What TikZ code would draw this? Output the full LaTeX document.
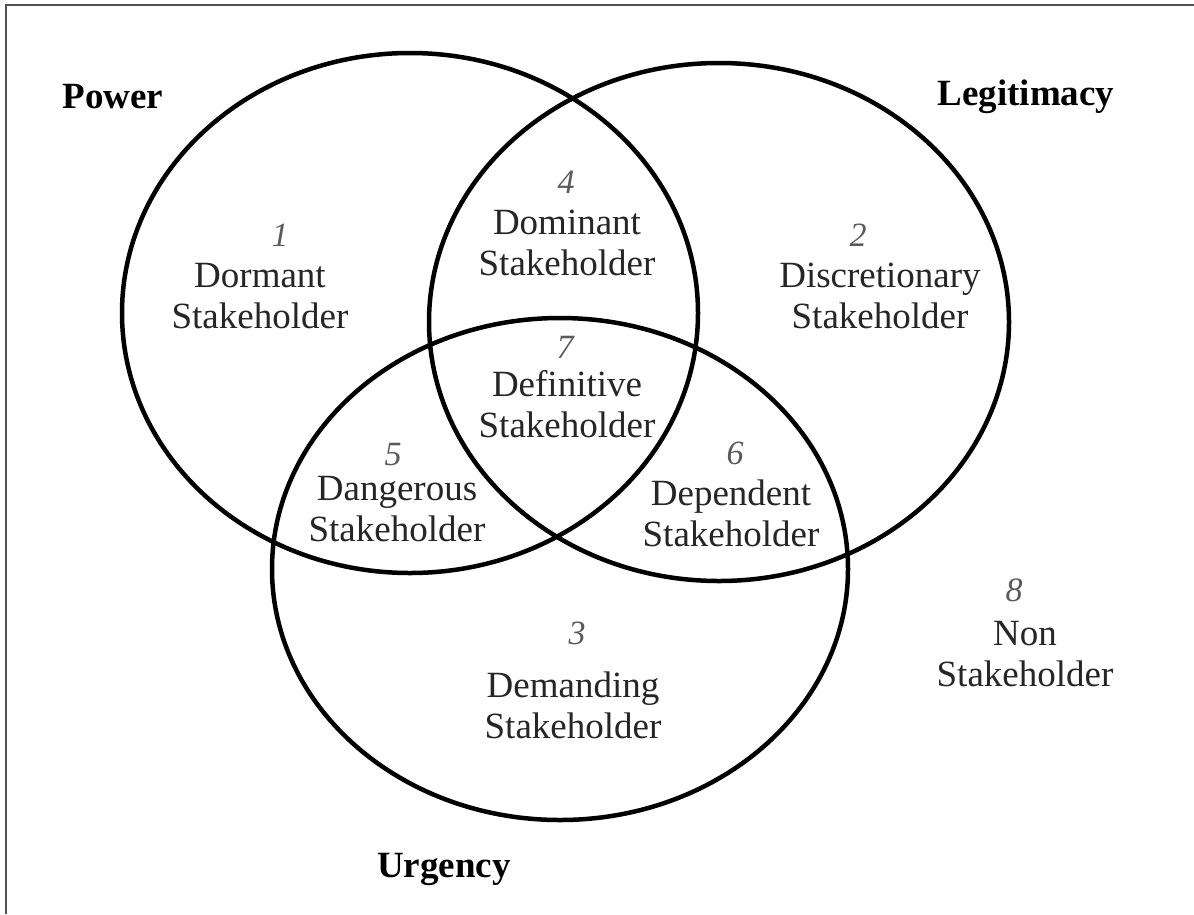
\documentclass[tikz,border=0pt]{standalone}
\usepackage{fontspec}
\setmainfont{Liberation Serif}
\usetikzlibrary{shapes.geometric}
\definecolor{labelgray}{HTML}{262626}
\definecolor{numgray}{HTML}{5A5A5A}
\definecolor{framegray}{HTML}{505050}
\begin{document}
\begin{tikzpicture}[x=1pt,y=-1pt,
  venn/.style={draw=black, line width=4.5pt, ellipse, inner sep=0pt, outer sep=0pt},
  title/.style={font=\fontsize{37}{40}\selectfont\bfseries, text=black, inner sep=0pt},
  num/.style={font=\fontsize{34}{38}\selectfont\itshape, text=numgray, inner sep=0pt},
  lbl/.style={font=\fontsize{37}{41}\selectfont, text=labelgray, align=center, inner sep=0pt},
]
\useasboundingbox (0,0) rectangle (1194,914);
\fill[white] (0,0) rectangle (1194,914);
% frame edges
\draw[framegray, line width=2pt] (6,914) -- (6,5) -- (1194,5);

% the three attribute sets
\node[venn, minimum width=576pt, minimum height=520pt] (power) at (410,313) {};
\node[venn, minimum width=580pt, minimum height=518pt] (legit) at (719,322) {};
\node[venn, minimum width=576pt, minimum height=502pt] (urgency) at (560,569) {};

% set titles
\node[title] (tpower) at (113,97) {Power};
\node[title] (tlegit) at (1026,97) {Legitimacy};
\node[title] (turgency) at (444,869) {Urgency};

% classes of stakeholder
\node[num] (n1) at (280,235) {1};
\node[lbl] (l1) at (260,296) {Dormant\\Stakeholder};

\node[num] (n4) at (566,182) {4};
\node[lbl] (l4) at (567,243) {Dominant\\Stakeholder};

\node[num] (n2) at (858,235) {2};
\node[lbl] (l2) at (880,296) {Discretionary\\Stakeholder};

\node[num] (n7) at (565,347) {7};
\node[lbl] (l7) at (567,404) {Definitive\\Stakeholder};

\node[num] (n5) at (393,455) {5};
\node[lbl] (l5) at (397,509) {Dangerous\\Stakeholder};

\node[num] (n6) at (735,453) {6};
\node[lbl] (l6) at (731,513) {Dependent\\Stakeholder};

\node[num] (n3) at (577,633) {3};
\node[lbl] (l3) at (573,705) {Demanding\\Stakeholder};

\node[num] (n8) at (1014,590) {8};
\node[lbl] (l8) at (1025,654) {Non\\Stakeholder};
\end{tikzpicture}
\end{document}
